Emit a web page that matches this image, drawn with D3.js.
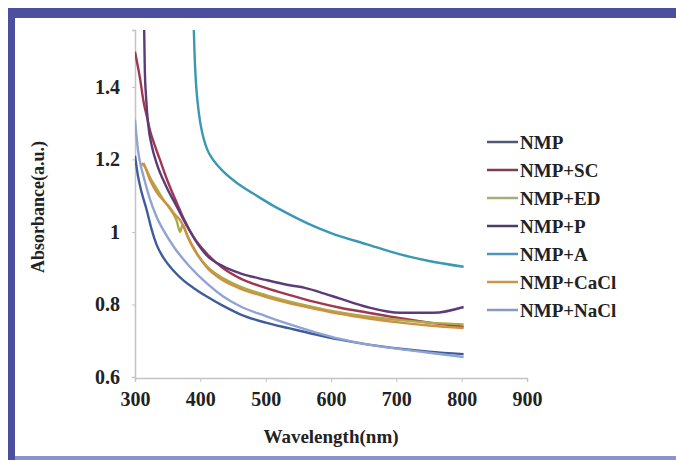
<!DOCTYPE html>
<html>
<head>
<meta charset="utf-8">
<script src="https://cdn.jsdelivr.net/npm/d3@7"></script>
<style>
  body { margin: 0; background: #fff; }
  svg text { font-family: "Liberation Serif", "Times New Roman", serif; font-weight: bold; fill: #222; }
</style>
</head>
<body>
<div id="chart"></div>
<script>
// Data__________________________________________
const seriesNames = ['NMP', 'NMP+SC', 'NMP+ED', 'NMP+P', 'NMP+A', 'NMP+CaCl', 'NMP+NaCl'];
const seriesColors = ['#3f5d9c', '#a3364f', '#a8ad45', '#5b3c78', '#3a98b4', '#d08f43', '#90a3d2'];
const legendColors = ['#4d5a74', '#7c3d55', '#a4b070', '#4a3d66', '#4f93bf', '#c9954f', '#8a98bc'];

const nmp = [[300, 1.21], [305, 1.15], [310, 1.11], [318, 1.06], [325, 1.01], [333, 0.965], [345, 0.925], [359, 0.893], [375, 0.865], [390, 0.845], [410, 0.822], [435, 0.796], [461, 0.773], [500, 0.75], [537, 0.734], [575, 0.718], [614, 0.703], [655, 0.69], [706, 0.678], [750, 0.67], [803, 0.663]];
const nmpSC = [[300, 1.497], [304, 1.46], [308, 1.42], [313, 1.36], [318, 1.32], [323, 1.28], [330, 1.24], [338, 1.20], [350, 1.14], [364, 1.08], [375, 1.035], [390, 0.985], [410, 0.94], [435, 0.9], [461, 0.872], [500, 0.846], [537, 0.826], [575, 0.807], [614, 0.791], [655, 0.778], [706, 0.762], [750, 0.75], [803, 0.739]];
const nmpED = [[313, 1.19], [318, 1.17], [323, 1.15], [333, 1.12], [343, 1.09], [355, 1.06], [364, 1.03], [369, 1.00], [373, 1.02], [380, 0.99], [395, 0.94], [410, 0.905], [435, 0.872], [461, 0.849], [500, 0.826], [537, 0.808], [575, 0.792], [614, 0.778], [655, 0.767], [706, 0.757], [750, 0.75], [803, 0.745]];
const nmpP = [[314, 1.56], [315, 1.45], [317, 1.37], [320, 1.30], [326, 1.235], [333, 1.19], [348, 1.125], [364, 1.07], [380, 1.015], [395, 0.97], [410, 0.935], [435, 0.905], [461, 0.886], [500, 0.868], [537, 0.853], [560, 0.846], [590, 0.83], [614, 0.816], [655, 0.793], [706, 0.777], [757, 0.777], [803, 0.793]];
const nmpA = [[390, 1.56], [391, 1.50], [393, 1.42], [396, 1.355], [400, 1.30], [405, 1.258], [410, 1.23], [420, 1.198], [435, 1.167], [460, 1.13], [487, 1.099], [510, 1.074], [537, 1.048], [570, 1.019], [600, 0.997], [655, 0.966], [706, 0.938], [750, 0.92], [803, 0.904]];
const nmpCaCl = [[310, 1.19], [315, 1.18], [323, 1.143], [333, 1.11], [343, 1.088], [352, 1.07], [360, 1.05], [370, 1.03], [385, 0.97], [410, 0.902], [435, 0.866], [461, 0.844], [500, 0.821], [537, 0.803], [575, 0.788], [614, 0.774], [655, 0.762], [706, 0.75], [750, 0.742], [803, 0.735]];
const nmpNaCl = [[300, 1.31], [302, 1.27], [305, 1.22], [308, 1.19], [315, 1.14], [323, 1.09], [333, 1.042], [345, 1.00], [359, 0.96], [384, 0.904], [410, 0.858], [435, 0.822], [461, 0.795], [500, 0.768], [537, 0.745], [575, 0.724], [614, 0.705], [655, 0.69], [706, 0.677], [750, 0.667], [803, 0.655]];

const seriesData = [nmp, nmpSC, nmpED, nmpP, nmpA, nmpCaCl, nmpNaCl];
const xTicks = [300, 400, 500, 600, 700, 800, 900];
const yTicks = [0.6, 0.8, 1, 1.2, 1.4];

// Layout_________________________________________
const width = 676, height = 460;
const plotLeft = 135, plotRight = 527, plotTop = 30, plotBottom = 377;
const yMax = 1.557; // top of the visible plot (curves are cut off there)

const svg = d3.select('#chart')
    .append('svg')
    .attr('width', width)
    .attr('height', height);

// Frame__________________________________________
svg.append('rect').attr('x', 8).attr('y', 8).attr('width', width - 8).attr('height', 10).attr('fill', '#4b4f9e');
svg.append('rect').attr('x', 8).attr('y', 8).attr('width', 7).attr('height', height - 8).attr('fill', '#4b4f9e');
svg.append('rect').attr('x', 15).attr('y', 456).attr('width', width - 15).attr('height', 4).attr('fill', '#8d92c8');

// Scales_________________________________________
const xScale = d3.scaleLinear().domain([300, 900]).range([plotLeft, plotRight]);
const yScale = d3.scaleLinear().domain([0.6, yMax]).range([plotBottom, plotTop]);

const xAxis = d3.axisBottom(xScale).tickValues(xTicks).tickSize(4).tickPadding(10).tickFormat(d3.format('d'));
const yAxis = d3.axisLeft(yScale).tickValues(yTicks).tickSize(3).tickPadding(12).tickFormat(d => d === 1 ? '1' : d3.format('.1f')(d));

const gx = svg.append('g')
    .attr('transform', `translate(0, ${plotBottom + 1})`)
    .call(xAxis);
const gy = svg.append('g')
    .attr('transform', `translate(${plotLeft}, 0)`)
    .call(yAxis);

[gx, gy].forEach(g => {
    g.attr('font-family', '"Liberation Serif", serif').attr('font-size', 20);
    g.select('.domain').attr('stroke', '#c4c4c4').attr('stroke-width', 1.5);
    g.selectAll('.tick line').attr('stroke', '#c4c4c4');
    g.selectAll('.tick text')
        .style('font-family', '"Liberation Serif", serif')
        .style('font-weight', 'bold')
        .style('font-size', '20px')
        .attr('fill', '#222');
});

// Lines__________________________________________
svg.append('clipPath').attr('id', 'plot-clip')
    .append('rect')
    .attr('x', plotLeft).attr('y', plotTop)
    .attr('width', plotRight - plotLeft).attr('height', plotBottom - plotTop);

const line = d3.line()
    .x(d => xScale(d[0]))
    .y(d => yScale(d[1]))
    .curve(d3.curveMonotoneX);

svg.append('g')
    .attr('clip-path', 'url(#plot-clip)')
    .selectAll('path')
    .data(seriesData)
    .enter()
    .append('path')
    .attr('d', line)
    .attr('fill', 'none')
    .attr('stroke', (d, i) => seriesColors[i])
    .attr('stroke-width', 2.4)
    .attr('stroke-linejoin', 'round');

// Axis titles____________________________________
svg.append('text')
    .attr('x', 331)
    .attr('y', 443)
    .attr('text-anchor', 'middle')
    .style('font-size', '19px')
    .text('Wavelength(nm)');

svg.append('text')
    .attr('transform', 'translate(44, 207) rotate(-90)')
    .attr('text-anchor', 'middle')
    .style('font-size', '18px')
    .text('Absorbance(a.u.)');

// Legend_________________________________________
const legend = svg.append('g').attr('transform', 'translate(487, 142)');

legend.selectAll('line')
    .data(seriesNames)
    .enter()
    .append('line')
    .attr('x1', 0).attr('x2', 31)
    .attr('y1', (d, i) => i * 28).attr('y2', (d, i) => i * 28)
    .attr('stroke', (d, i) => legendColors[i])
    .attr('stroke-width', 2.5);

legend.selectAll('text')
    .data(seriesNames)
    .enter()
    .append('text')
    .attr('x', 33)
    .attr('y', (d, i) => i * 28)
    .attr('dy', '.35em')
    .style('font-size', '19px')
    .text(d => d);
</script>
</body>
</html>
